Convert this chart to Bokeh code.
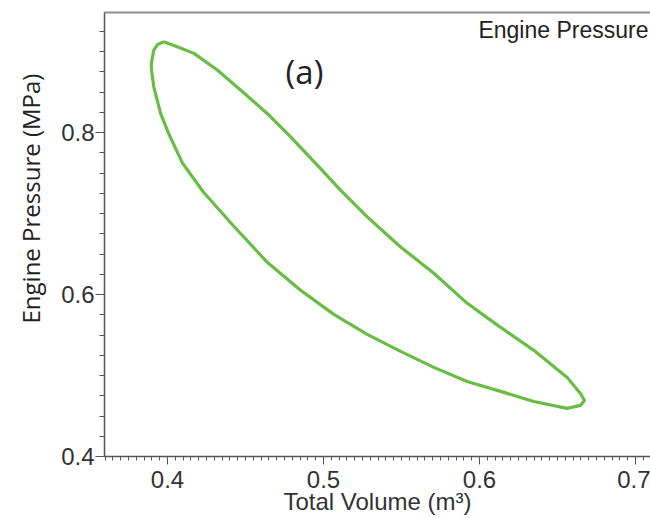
from bokeh.plotting import figure
from bokeh.models import (Range1d, SingleIntervalTicker, LinearAxis, FixedTicker, Label, Title)
from bokeh.embed import file_html
from bokeh.resources import INLINE

# Loop (total volume m^3, engine pressure MPa)
volume = [0.3976, 0.4062, 0.4169, 0.4319, 0.4468, 0.4639, 0.4789, 0.4960, 0.5109,
          0.5280, 0.5494, 0.5707, 0.5921, 0.6135, 0.6348, 0.6562, 0.6647, 0.6673,
          0.6647, 0.6562, 0.6348, 0.6135, 0.5921, 0.5707, 0.5494, 0.5280, 0.5066,
          0.4853, 0.4639, 0.4425, 0.4231, 0.4096, 0.4006, 0.3955, 0.3912, 0.3897,
          0.3896, 0.3912, 0.3936, 0.3976]
pressure = [0.9123, 0.9061, 0.8979, 0.8773, 0.8526, 0.8237, 0.7948, 0.7598, 0.7289,
            0.6959, 0.6588, 0.6263, 0.5892, 0.5595, 0.5311, 0.4977, 0.4779, 0.4692,
            0.4631, 0.4594, 0.4680, 0.4804, 0.4927, 0.5101, 0.5298, 0.5509, 0.5756,
            0.6053, 0.6399, 0.6844, 0.7264, 0.7623, 0.7994, 0.8241, 0.8566, 0.8773,
            0.8856, 0.9020, 0.9088, 0.9123]

series_label = "Engine Pressure"
panel_label = "(a)"
x_title = "Total Volume (m³)"
y_title = "Engine Pressure (MPa)"

p = figure(frame_width=546, frame_height=444, output_backend="svg",
           toolbar_location=None, x_range=Range1d(0.3596, 0.7096),
           y_range=Range1d(0.4, 0.9484), min_border_left=104, min_border_right=0,
           min_border_top=12, min_border_bottom=40)
p.background_fill_color = "white"
p.border_fill_color = "white"
p.outline_line_color = None
p.grid.visible = False

p.line(volume, pressure, line_color="#69bd45", line_width=3.2)

axis_color = "#555555"
text_color = "#333333"
tick_font = "Liberation Sans"

xa = p.xaxis[0]
xa.ticker = SingleIntervalTicker(interval=0.1, num_minor_ticks=20)
xa.axis_line_color = axis_color
xa.axis_line_width = 1.5
xa.major_tick_line_color = axis_color
xa.minor_tick_line_color = axis_color
xa.major_tick_in = 0
xa.major_tick_out = 8
xa.minor_tick_in = 0
xa.minor_tick_out = 4
xa.major_label_text_font = tick_font
xa.major_label_text_font_size = "24px"
xa.major_label_text_color = text_color
xa.major_label_standoff = 6
xa.axis_label = x_title
xa.axis_label_text_font = tick_font
xa.axis_label_text_font_style = "normal"
xa.axis_label_text_font_size = "24px"
xa.axis_label_text_color = text_color
xa.axis_label_standoff = -3

ya = p.yaxis[0]
ya.ticker = SingleIntervalTicker(interval=0.2, num_minor_ticks=8)
ya.axis_line_color = axis_color
ya.axis_line_width = 1.5
ya.major_tick_line_color = axis_color
ya.minor_tick_line_color = axis_color
ya.major_tick_in = 0
ya.major_tick_out = 9
ya.minor_tick_in = 0
ya.minor_tick_out = 5
ya.major_label_text_font = tick_font
ya.major_label_text_font_size = "24px"
ya.major_label_text_color = text_color
ya.major_label_standoff = 1

top = LinearAxis(ticker=FixedTicker(ticks=[]), axis_line_color="#8f8f8f",
                 axis_line_width=2, major_tick_line_color=None,
                 minor_tick_line_color=None, major_label_text_font_size="0px")
p.add_layout(top, "above")

p.add_layout(Title(text=y_title, align="left", vertical_align="middle", offset=133,
                   standoff=21, text_font="Open Sans", text_font_size="24px",
                   text_font_style="normal", text_color="#222222"), "left")

p.add_layout(Label(x=0.4878, y=0.8760, text=panel_label, text_font="Open Sans",
                   text_font_size="33px", text_color="#222222",
                   text_align="center", text_baseline="middle"))
p.add_layout(Label(x=0.7083, y=0.9267, text=series_label, text_font=tick_font,
                   text_font_size="23px", text_color="#222222",
                   text_align="right", text_baseline="middle"))

open("out.html", "w").write(file_html(p, INLINE))
